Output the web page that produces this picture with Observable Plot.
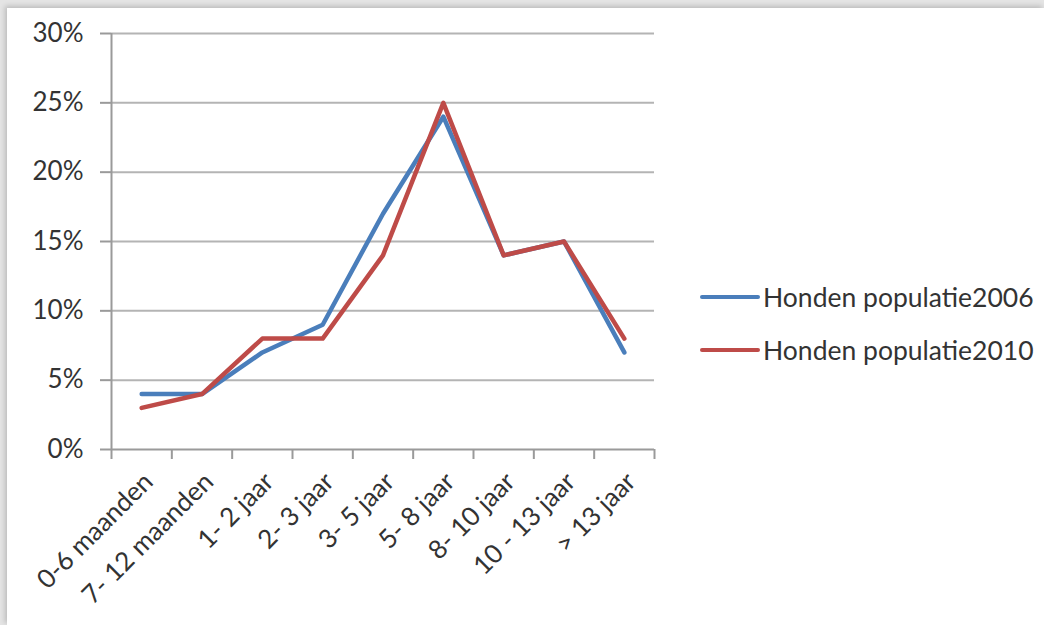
<!DOCTYPE html>
<html>
<head>
<meta charset="utf-8">
<script src="https://cdn.jsdelivr.net/npm/d3@7"></script>
<script src="https://cdn.jsdelivr.net/npm/@observablehq/plot@0.6"></script>
<style>
  html, body { margin: 0; padding: 0; }
  body { width: 1044px; height: 625px; background: #e4e4e4; position: relative; overflow: hidden; font-family: Lato, "Open Sans", sans-serif; }
  #frame { position: absolute; left: 7px; top: 8px; width: 1037px; height: 617px; background: #fff; box-shadow: -2px -2px 5px rgba(0,0,0,0.18); }
  #chart { position: absolute; left: 0; top: 0; }
  #legend { position: absolute; left: 700px; top: 270px; color: #333; font-size: 26.5px; }
  .item { display: flex; align-items: center; height: 53px; }
  .swatch { width: 60px; height: 4px; border-radius: 2px; margin-right: 3px; }
</style>
</head>
<body>
<div id="frame"></div>
<div id="chart"></div>
<div id="legend"></div>
<script>
const categories = ["0-6 maanden", "7- 12 maanden", "1- 2 jaar", "2- 3 jaar", "3- 5 jaar", "5- 8 jaar", "8- 10 jaar", "10 - 13 jaar", "> 13 jaar"];
const series2006 = [4, 4, 7, 9, 17, 24, 14, 15, 7];
const series2010 = [3, 4, 8, 8, 14, 25, 14, 15, 8];
const seriesNames = ["Honden populatie2006", "Honden populatie2010"];
const seriesColors = ["#4a7ebb", "#be4b48"];
const yTicks = [0, 5, 10, 15, 20, 25, 30];

const rows = [];
[series2006, series2010].forEach((vals, s) => {
  vals.forEach((v, i) => rows.push({series: seriesNames[s], idx: i + 0.5, value: v}));
});
const catRows = categories.map((c, i) => ({label: c, idx: i + 0.5}));
const boundaries = d3.range(0, categories.length + 1);

const plot = Plot.plot({
  width: 700,
  height: 625,
  marginLeft: 111,
  marginRight: 46,
  marginTop: 33,
  marginBottom: 176,
  style: {background: "transparent", fontFamily: "Lato, 'Open Sans', sans-serif", fontSize: "26px", color: "#333"},
  x: {type: "linear", domain: [0, categories.length], axis: null},
  y: {domain: [0, 30], axis: null},
  color: {domain: seriesNames, range: seriesColors},
  marks: [
    Plot.ruleY(yTicks.filter(t => t > 0), {stroke: "#b4b4b4", strokeWidth: 2, x1: 0, x2: categories.length}),
    Plot.ruleY([0], {stroke: "#9a9a9a", strokeWidth: 2, x1: 0, x2: categories.length}),
    Plot.ruleX([0], {stroke: "#9a9a9a", strokeWidth: 2}),
    Plot.axisY({ticks: yTicks, label: null, tickSize: 11, tickPadding: 17, tickFormat: d => d + "%", stroke: "#9a9a9a", strokeWidth: 2, fontSize: 26, fill: "#333"}),
    Plot.axisX({ticks: boundaries, label: null, tickSize: 10, tickFormat: () => "", stroke: "#9a9a9a", strokeWidth: 2}),
    Plot.text(catRows, {x: "idx", y: 0, text: "label", rotate: -45, textAnchor: "end", dx: 7, dy: 28, fontSize: 26, fill: "#333"}),
    Plot.line(rows, {x: "idx", y: "value", z: "series", stroke: "series", strokeWidth: 4.5, strokeLinejoin: "round"})
  ]
});
document.getElementById("chart").appendChild(plot);

const legend = document.getElementById("legend");
seriesNames.forEach((n, i) => {
  const item = document.createElement("div");
  item.className = "item";
  const sw = document.createElement("div");
  sw.className = "swatch";
  sw.style.background = seriesColors[i];
  const t = document.createElement("span");
  t.textContent = n;
  item.appendChild(sw);
  item.appendChild(t);
  legend.appendChild(item);
});
</script>
</body>
</html>
